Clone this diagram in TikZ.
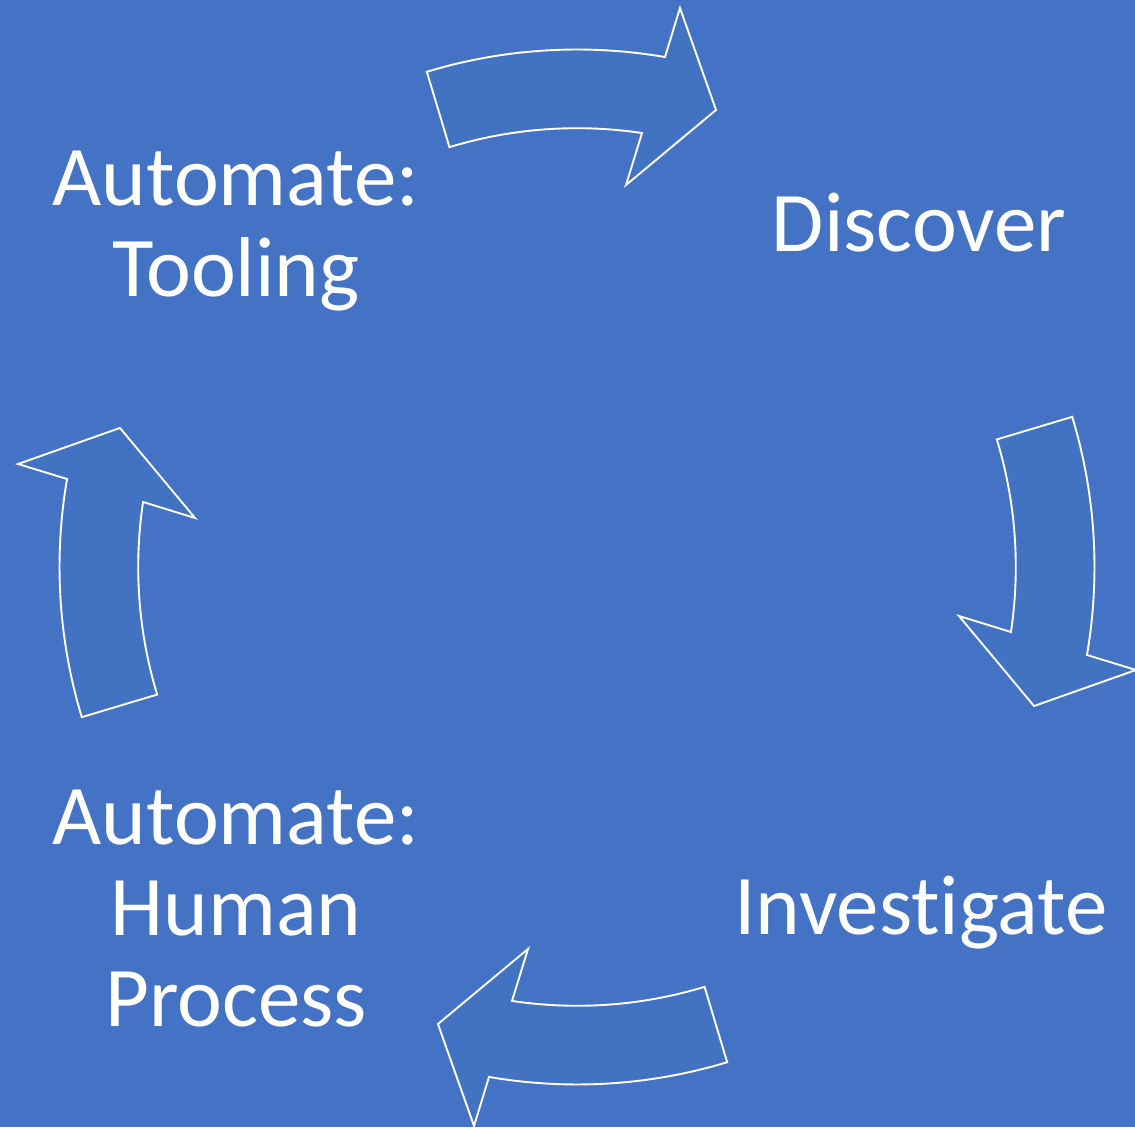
\documentclass[tikz,border=0pt]{standalone}
\usepackage{fontspec}
\setmainfont[Ligatures=NoCommon]{Carlito}
\definecolor{bgblue}{HTML}{4472C4}
\definecolor{arrowblue}{RGB}{66,114,194}
\tikzset{
  arrowshape/.style={draw=white, fill=arrowblue, line width=1.9pt, line join=miter},
  label/.style={text=white, align=center, inner sep=0pt, anchor=base,
    font={\fontsize{85}{91}\selectfont}},
  cyclearrow/.pic={
    \path[arrowshape] (106.87:517.5)
      arc[start angle=106.87, end angle=80.21, radius=517.5]
      -- (79.56:568.4) -- (73.08:477.7) -- (82.69:385.1) -- (81.48:438.8)
      arc[start angle=81.48, end angle=106.9, radius=438.8] -- cycle;
  }
}
\begin{document}
\begin{tikzpicture}[x=1pt,y=1pt]
  \fill[bgblue] (0,0) rectangle (1135,1127);
  \useasboundingbox (0,0) rectangle (1135,1127);
  \coordinate (c) at (577,560);
  \pic at (c) {cyclearrow};
  \pic[rotate=-90] at (c) {cyclearrow};
  \pic[rotate=-180] at (c) {cyclearrow};
  \pic[rotate=-270] at (c) {cyclearrow};
  % anchor=base is the baseline of the last line
  \node[label] (tooling) at (236,830) {Automate:\\Tooling};
  \node[label] (discover) at (919,875) {Discover};
  \node[label] (investigate) at (921,192) {Investigate};
  \node[label] (human) at (236,100) {Automate:\\Human\\Process};
\end{tikzpicture}
\end{document}
